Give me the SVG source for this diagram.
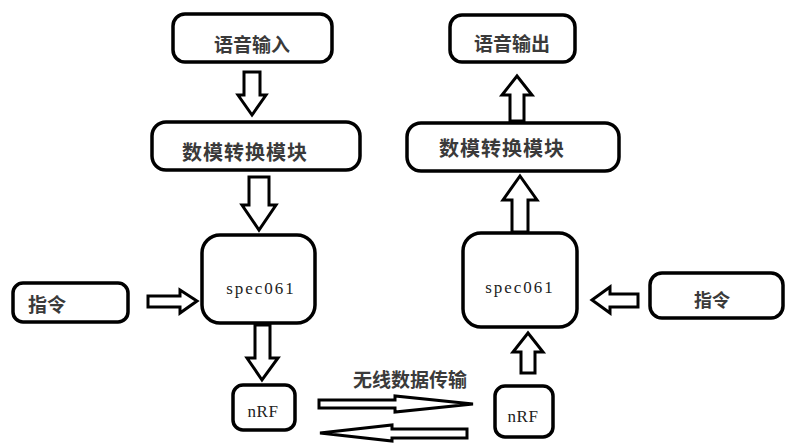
<svg xmlns="http://www.w3.org/2000/svg" width="785" height="443" viewBox="0 0 785 443">
<style>
.box{fill:#fff;stroke:#000;stroke-width:3.5}
.arr{fill:#fff;stroke:#000;stroke-width:3;stroke-linejoin:miter}
.cn{font-family:"Noto Sans CJK SC","Noto Sans",sans-serif;font-weight:bold;fill:#3a3a3a;text-anchor:middle;dominant-baseline:central}
.en{font-family:"Liberation Serif",serif;fill:#222;text-anchor:middle;dominant-baseline:central}
</style>
<rect width="785" height="443" fill="#fff"/>
<g id="voice-in"><rect class="box" x="173" y="14" width="159" height="48" rx="12"/><text class="cn" x="252" y="43" font-size="19">语音输入</text></g>
<g id="voice-out"><rect class="box" x="450" y="15" width="125" height="47" rx="12"/><text class="cn" x="512" y="42" font-size="19">语音输出</text></g>
<g id="dac-left"><rect class="box" x="152" y="122" width="208" height="48" rx="14"/><text class="cn" x="245" y="151" font-size="20" letter-spacing="1">数模转换模块</text></g>
<g id="dac-right"><rect class="box" x="407" y="123" width="212" height="48" rx="14"/><text class="cn" x="502" y="147" font-size="20" letter-spacing="1">数模转换模块</text></g>
<g id="spec-left"><rect class="box" x="202" y="235" width="113" height="88" rx="18"/><text class="en" x="261" y="288" font-size="17" letter-spacing="2">spec061</text></g>
<g id="spec-right"><rect class="box" x="463" y="233" width="114" height="94" rx="18"/><text class="en" x="520" y="287" font-size="17" letter-spacing="2">spec061</text></g>
<g id="cmd-left"><rect class="box" x="13" y="283" width="115" height="39" rx="10"/><text class="cn" x="47" y="303" font-size="19">指令</text></g>
<g id="cmd-right"><rect class="box" x="650" y="273" width="133" height="45" rx="12"/><text class="cn" x="712" y="299" font-size="18">指令</text></g>
<g id="nrf-left"><rect class="box" x="233" y="385" width="62" height="45" rx="10"/><text class="en" x="263" y="411" font-size="17" letter-spacing="0.5">nRF</text></g>
<g id="nrf-right"><rect class="box" x="495" y="386" width="58" height="51" rx="10"/><text class="en" x="523" y="416" font-size="17" letter-spacing="0.5">nRF</text></g>
<g id="wireless-label"><text class="cn" x="410" y="378" font-size="19">无线数据传输</text></g>
<g id="connectors">
<polygon class="arr" points="244,72 260,72 260,95 266,95 252,115 238,95 244,95"/>
<polygon class="arr" points="249,177 269,177 269,205 276,205 259,230 242,205 249,205"/>
<polygon class="arr" points="255,325 270,325 270,358 278,358 262,380 247,358 255,358"/>
<polygon class="arr" points="517,76 532,95 524,95 524,121 510,121 510,95 502,95"/>
<polygon class="arr" points="520,176 537,200 528,200 528,232 512,232 512,200 503,200"/>
<polygon class="arr" points="528,333 543,352 535,352 535,373 521,373 521,352 513,352"/>
<polygon class="arr" points="148,296 180,296 180,290 197,301 180,313 180,307 148,307"/>
<polygon class="arr" points="592,300 610,287 610,294 638,294 638,307 610,307 610,313"/>
<polygon class="arr" points="319,400 395,400 395,396 473,404 395,412 395,408 319,408"/>
<polygon class="arr" points="320,433 392,425 392,429 467,429 467,438 392,438 392,441"/>
</g>
</svg>
